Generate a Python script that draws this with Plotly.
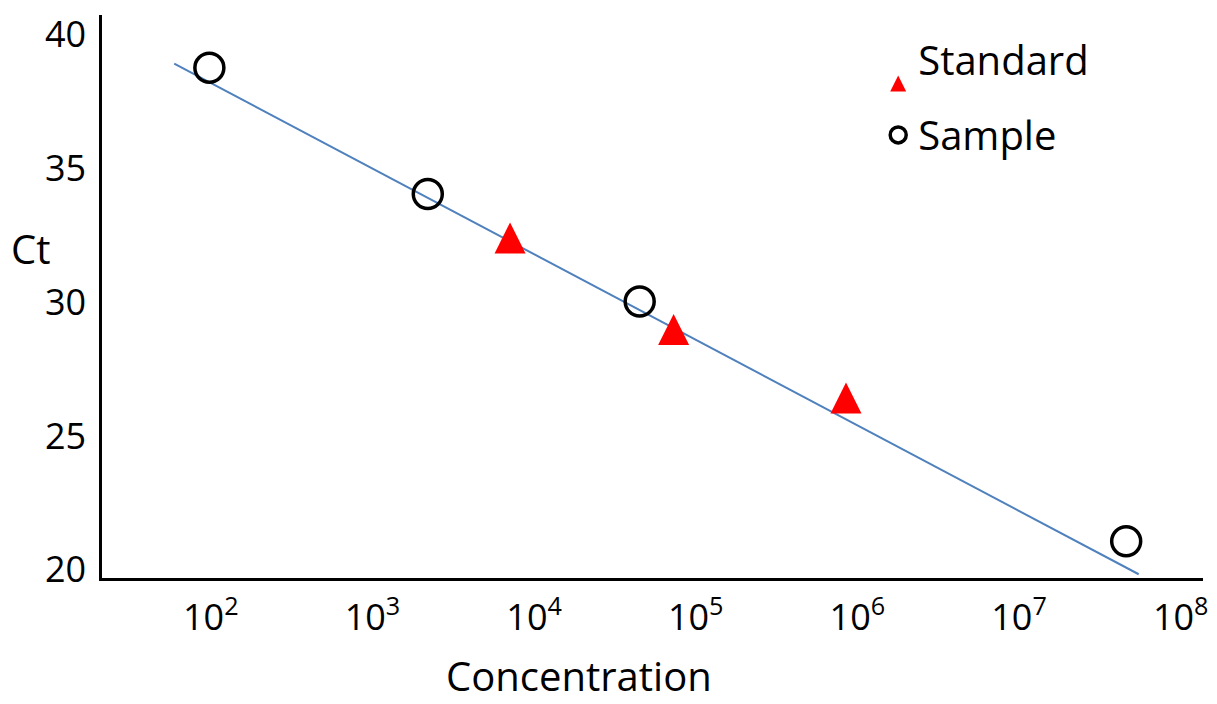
import plotly.graph_objects as go

# Data
standard_conc = [7.1e3, 7.3e4, 8.5e5]
standard_ct = [32.40, 28.98, 26.42]

sample_conc = [98, 2.2e3, 4.5e4, 4.6e7]
sample_ct = [38.76, 34.04, 30.02, 21.06]

fit_conc = [59.4, 5.5e7]
fit_ct = [38.91, 19.83]

x_tickvals = [1e2, 1e3, 1e4, 1e5, 1e6, 1e7, 1e8]
x_ticktext = ["10<sup>2</sup>", "10<sup>3</sup>", "10<sup>4</sup>", "10<sup>5</sup>",
              "10<sup>6</sup>", "10<sup>7</sup>", "10<sup>8</sup>"]
y_tickvals = [20, 25, 30, 35, 40]

FONT = "Open Sans"
TRI_SIZE = 31

fig = go.Figure()

fig.add_trace(go.Scatter(
    x=fit_conc, y=fit_ct, mode="lines",
    line=dict(color="#4F81BD", width=2),
    showlegend=False, hoverinfo="skip",
))

fig.add_trace(go.Scatter(
    x=standard_conc, y=standard_ct, mode="markers", name="Standard",
    legendgroup="std",
    marker=dict(symbol="arrow-down", angle=180, size=TRI_SIZE, standoff=TRI_SIZE / 2,
                color="#FF0000", line=dict(width=0)),
))

fig.add_trace(go.Scatter(
    x=sample_conc, y=sample_ct, mode="markers", name="Sample",
    legendgroup="smp",
    marker=dict(symbol="circle-open", size=29, color="#000000",
                line=dict(width=3.5, color="#000000")),
))

fig.update_layout(
    width=1217, height=704,
    margin=dict(l=102, r=9, t=12, b=126),
    paper_bgcolor="white", plot_bgcolor="white",
    font=dict(family=FONT, color="#000000"),
    showlegend=True,
    legend=dict(
        x=0.705, y=0.978, xanchor="left", yanchor="top",
        font=dict(size=40, family=FONT, color="#000000"),
        bgcolor="rgba(0,0,0,0)", tracegroupgap=20,
    ),
    xaxis=dict(
        type="log", range=[1.327, 8.138],
        tickvals=x_tickvals, ticktext=x_ticktext,
        showgrid=False, zeroline=False,
        showline=True, linecolor="#000000", linewidth=2.5,
        ticks="", tickfont=dict(size=36, family=FONT, color="#000000"),
        ticklabelstandoff=6,
    ),
    yaxis=dict(
        range=[19.69, 40.73],
        tickvals=y_tickvals,
        showgrid=False, zeroline=False,
        showline=True, linecolor="#000000", linewidth=2.5,
        ticks="", tickfont=dict(size=36, family=FONT, color="#000000"),
        ticklabelstandoff=6,
    ),
    annotations=[
        dict(text="Ct", xref="paper", yref="paper", x=-0.065, y=0.585,
             xanchor="center", yanchor="middle", showarrow=False,
             font=dict(size=40, family=FONT, color="#000000")),
        dict(text="Concentration", xref="paper", yref="paper", x=0.433, y=-0.173,
             xanchor="center", yanchor="middle", showarrow=False,
             font=dict(size=40, family=FONT, color="#000000")),
    ],
)

fig.write_html("out.html", config={"displayModeBar": False},
               post_script="document.body.style.margin='0px';")
